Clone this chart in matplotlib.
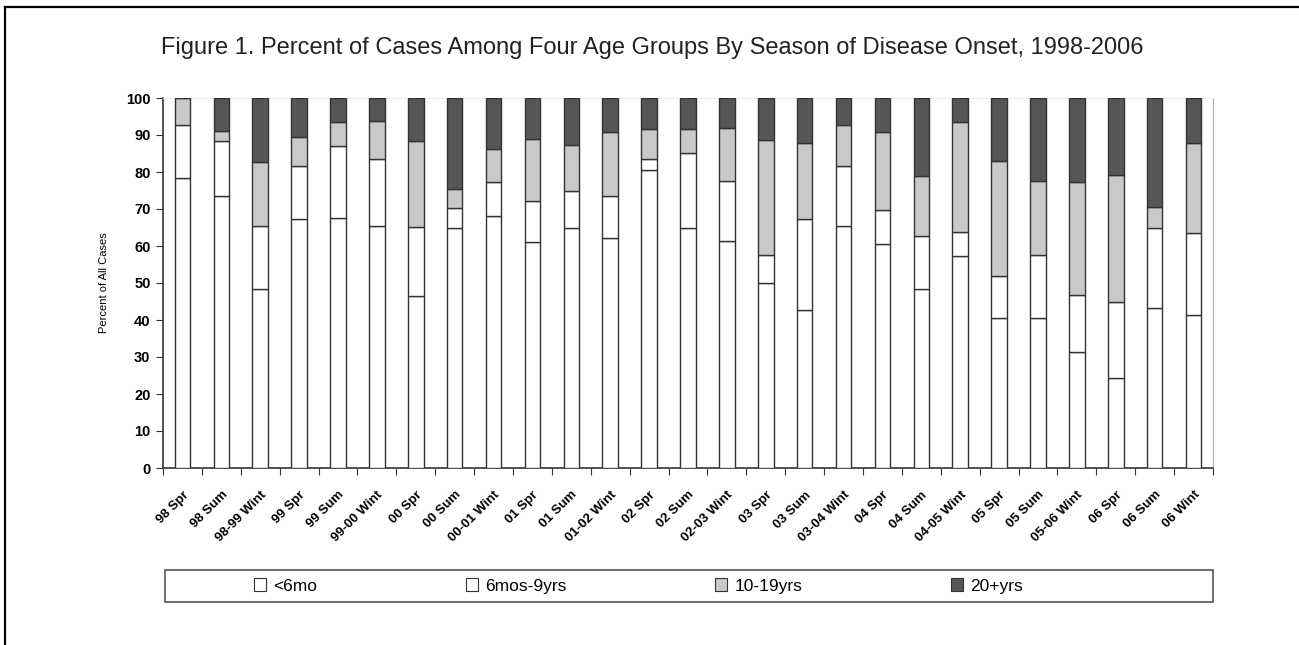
import numpy as np
import matplotlib
matplotlib.use('Agg')
import matplotlib.pyplot as plt
from matplotlib.patches import Rectangle, Patch
from matplotlib.lines import Line2D

plt.rcParams['font.family'] = ['Liberation Sans', 'DejaVu Sans']

# estacoes (eixo x)
estacoes = ['98 Spr', '98 Sum', '98-99 Wint', '99 Spr', '99 Sum', '99-00 Wint',
            '00 Spr', '00 Sum', '00-01 Wint', '01 Spr', '01 Sum', '01-02 Wint',
            '02 Spr', '02 Sum', '02-03 Wint', '03 Spr', '03 Sum', '03-04 Wint',
            '04 Spr', '04 Sum', '04-05 Wint', '05 Spr', '05 Sum', '05-06 Wint',
            '06 Spr', '06 Sum', '06 Wint']

# percentuais por faixa etaria
menor_6m = [78.5, 73.5, 48.3, 67.3, 67.6, 65.3, 46.6, 64.9, 68.2, 61.1, 64.9, 62.2,
            80.6, 64.9, 61.3, 50.0, 42.8, 65.5, 60.6, 48.4, 57.2, 40.5, 40.5, 31.4,
            24.2, 43.2, 41.4]
m6_9a = [14.3, 14.8, 17.2, 14.4, 19.3, 18.2, 18.6, 5.4, 9.1, 11.0, 9.9, 11.2,
         2.9, 20.2, 16.4, 7.7, 24.5, 16.2, 9.0, 14.4, 6.5, 11.3, 17.2, 15.4,
         20.8, 21.7, 22.1]
a10_19 = [7.2, 2.7, 17.2, 7.8, 6.5, 10.3, 23.1, 5.1, 8.9, 16.9, 12.6, 17.4,
          8.1, 6.5, 14.2, 30.9, 20.5, 11.1, 21.3, 16.0, 29.7, 31.3, 19.8, 30.4,
          34.2, 5.6, 24.3]
a20_mais = [0.0, 9.0, 17.3, 10.5, 6.6, 6.2, 11.7, 24.6, 13.8, 11.0, 12.6, 9.2,
            8.4, 8.4, 8.1, 11.4, 12.2, 7.2, 9.1, 21.2, 6.6, 16.9, 22.5, 22.8,
            20.8, 29.5, 12.2]

series = [menor_6m, m6_9a, a10_19, a20_mais]
nomes = ['<6mo', '6mos-9yrs', '10-19yrs', '20+yrs']
cores = ['white', 'white', '#c8c9cb', '#545658']

fig = plt.figure(figsize=(12.99, 6.45), dpi=100)
W, H = 1299, 645
ax = fig.add_axes([163 / W, 1 - 468 / H, (1213 - 163) / W, (468 - 98) / H])

x = np.arange(len(estacoes))
base = np.zeros(len(estacoes))
for vals, cor in zip(series, cores):
    vals = np.array(vals)
    ax.bar(x, vals, bottom=base, width=0.4, color=cor, edgecolor='#333333',
           linewidth=1.0, zorder=3)
    base += vals

ax.set_xlim(-0.5, len(estacoes) - 0.5)
ax.set_ylim(0, 100)
ax.set_yticks(np.arange(0, 101, 10))
ax.set_yticklabels([str(v) for v in range(0, 101, 10)], fontweight='bold', fontsize=10.5)
ax.set_xticks(np.arange(-0.5, len(estacoes), 1.0))
ax.set_xticklabels([])
ax.set_xticks(x, minor=True)
ax.set_xticklabels(estacoes, minor=True, rotation=45, ha='right', va='top',
                   rotation_mode='anchor', fontsize=9.5, fontweight='bold',
                   family=['Liberation Sans Narrow', 'Liberation Sans'])
ax.tick_params(axis='x', which='minor', length=0, pad=15)
ax.tick_params(axis='x', which='major', direction='out', length=5, color='#333333')
ax.tick_params(axis='y', direction='out', length=5, color='#333333', pad=4)
for lado in ['left', 'bottom']:
    ax.spines[lado].set_color('#333333')
    ax.spines[lado].set_linewidth(1.2)
ax.spines['right'].set_color('#b0b0b0')
ax.spines['top'].set_color('#eeeeee')

ax.set_ylabel('Percent of All Cases', fontsize=8,
              family=['Liberation Sans Narrow', 'Liberation Sans'], labelpad=12)

fig.text(652 / W, 1 - 48 / H, 'Figure 1. Percent of Cases Among Four Age Groups By Season of Disease Onset, 1998-2006',
         ha='center', va='center', fontsize=17, color='#222222')

# caixa da legenda
fig.patches.append(Rectangle((165 / W, 1 - 602 / H), (1213 - 165) / W, 32 / H,
                             transform=fig.transFigure, fill=False,
                             edgecolor='#555555', linewidth=1.2))
handles = [Patch(facecolor=c, edgecolor='#333333', linewidth=0.8) for c in cores]
fig.legend(handles, nomes, ncol=4, loc='center left', mode='expand',
           bbox_to_anchor=(247 / W, 1 - 600 / H, (1030 - 247) / W, 28 / H),
           frameon=False, fontsize=12.5, handlelength=0.7, handleheight=0.7,
           handletextpad=0.4, borderaxespad=0)

# moldura externa
fig.add_artist(Line2D([5 / W, 1], [1 - 7 / H, 1 - 7 / H], color='black', linewidth=1.6))
fig.add_artist(Line2D([5 / W, 5 / W], [0, 1 - 7 / H], color='black', linewidth=1.6))

fig.savefig('out.png', dpi=100)
